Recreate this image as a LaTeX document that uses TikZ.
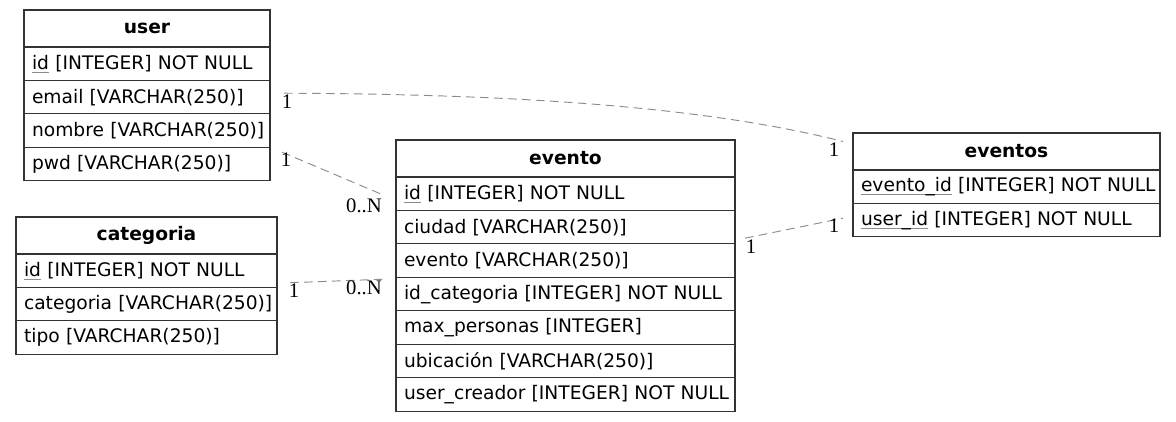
\documentclass[tikz,border=0pt]{standalone}
\usepackage{fontspec}
\setmainfont{DejaVu Sans}
\newfontfamily\cardfont{Liberation Serif}
\usetikzlibrary{positioning}
\definecolor{bk80}{HTML}{333333}
\definecolor{bk50}{HTML}{8C8C8C}
\newsavebox{\pkeybox}
\newcommand{\pkey}[1]{\sbox{\pkeybox}{#1}\rlap{\color{bk50}\rule[-2.6pt]{\wd\pkeybox}{0.7pt}}\usebox{\pkeybox}}
\tikzset{
  tabhead/.style={
    rectangle, draw=bk80, line width=0.8pt, outer sep=0pt,
    minimum width=#1, minimum height=27.75pt,
    font=\fontsize{14}{17}\selectfont\bfseries, align=center,
    inner sep=0pt
  },
  tabrow/.style={
    rectangle, draw=bk80, line width=0.8pt, outer sep=0pt,
    text width=#1-12pt, minimum height=25.1pt,
    font=\fontsize{14}{17}\selectfont, align=left,
    inner xsep=6pt, inner ysep=0pt,
    execute at begin node={\hbox\bgroup}, execute at end node={\egroup}
  },
  reln/.style={
    dashed, dash pattern=on 6.5pt off 4pt, color=bk50, line width=0.7pt
  },
  card/.style={
    font=\cardfont\fontsize{15.5}{18}\selectfont, inner sep=0pt
  },
}
\begin{document}
\begin{tikzpicture}[x=0.75pt, y=-0.75pt]
  \useasboundingbox (0,0) rectangle (1176,421);

  % user
  \node[tabhead=184.5pt, anchor=north west] (u-head) at (24,10) {user};
  \node[tabrow=184.5pt, below=0pt of u-head] (u-id) {\pkey{id} [INTEGER] NOT NULL};
  \node[tabrow=184.5pt, below=0pt of u-id] (u-email) {email [VARCHAR(250)]};
  \node[tabrow=184.5pt, below=0pt of u-email] (u-nombre) {nombre [VARCHAR(250)]};
  \node[tabrow=184.5pt, below=0pt of u-nombre] (u-pwd) {pwd [VARCHAR(250)]};

  % categoria
  \node[tabhead=195.75pt, anchor=north west] (c-head) at (16,217) {categoria};
  \node[tabrow=195.75pt, below=0pt of c-head] (c-id) {\pkey{id} [INTEGER] NOT NULL};
  \node[tabrow=195.75pt, below=0pt of c-id] (c-cat) {categoria [VARCHAR(250)]};
  \node[tabrow=195.75pt, below=0pt of c-cat] (c-tipo) {tipo [VARCHAR(250)]};

  % evento
  \node[tabhead=254.25pt, anchor=north west] (e-head) at (396,140) {evento};
  \node[tabrow=254.25pt, below=0pt of e-head] (e-id) {\pkey{id} [INTEGER] NOT NULL};
  \node[tabrow=254.25pt, below=0pt of e-id] (e-ciudad) {ciudad [VARCHAR(250)]};
  \node[tabrow=254.25pt, below=0pt of e-ciudad] (e-evento) {evento [VARCHAR(250)]};
  \node[tabrow=254.25pt, below=0pt of e-evento] (e-idcat) {id\_categoria [INTEGER] NOT NULL};
  \node[tabrow=254.25pt, below=0pt of e-idcat] (e-max) {max\_personas [INTEGER]};
  \node[tabrow=254.25pt, below=0pt of e-max] (e-ubic) {ubicación [VARCHAR(250)]};
  \node[tabrow=254.25pt, below=0pt of e-ubic] (e-creador) {user\_creador [INTEGER] NOT NULL};

  % eventos
  \node[tabhead=230.25pt, anchor=north west] (es-head) at (853,133) {eventos};
  \node[tabrow=230.25pt, below=0pt of es-head] (es-evento) {\pkey{evento\_id} [INTEGER] NOT NULL};
  \node[tabrow=230.25pt, below=0pt of es-evento] (es-user) {\pkey{user\_id} [INTEGER] NOT NULL};

  % relations
  \draw[reln] ([shift={(14,-4)}]u-email.east) .. controls (500,94) and (700,105) .. ([shift={(-10,-10)}]es-head.west);
  \draw[reln] ([shift={(12,-12)}]u-pwd.east) -- ([shift={(-11,2)}]e-id.west);
  \draw[reln] ([shift={(13,12)}]c-id.east) -- ([shift={(-11,-15)}]e-idcat.west);
  \draw[reln] ([shift={(10,11)}]e-ciudad.east) -- ([shift={(-10,-2)}]es-user.west);

  % cardinalities
  \node[card] (k-email) at (287,102) {1};
  \node[card] (k-evs1) at (834,150) {1};
  \node[card] (k-pwd) at (286,160) {1};
  \node[card] (k-eid) at (364,206) {0..N};
  \node[card] (k-cid) at (294,291) {1};
  \node[card] (k-ecat) at (364,288) {0..N};
  \node[card] (k-eciu) at (751,247) {1};
  \node[card] (k-evs2) at (834,226) {1};
\end{tikzpicture}
\end{document}
